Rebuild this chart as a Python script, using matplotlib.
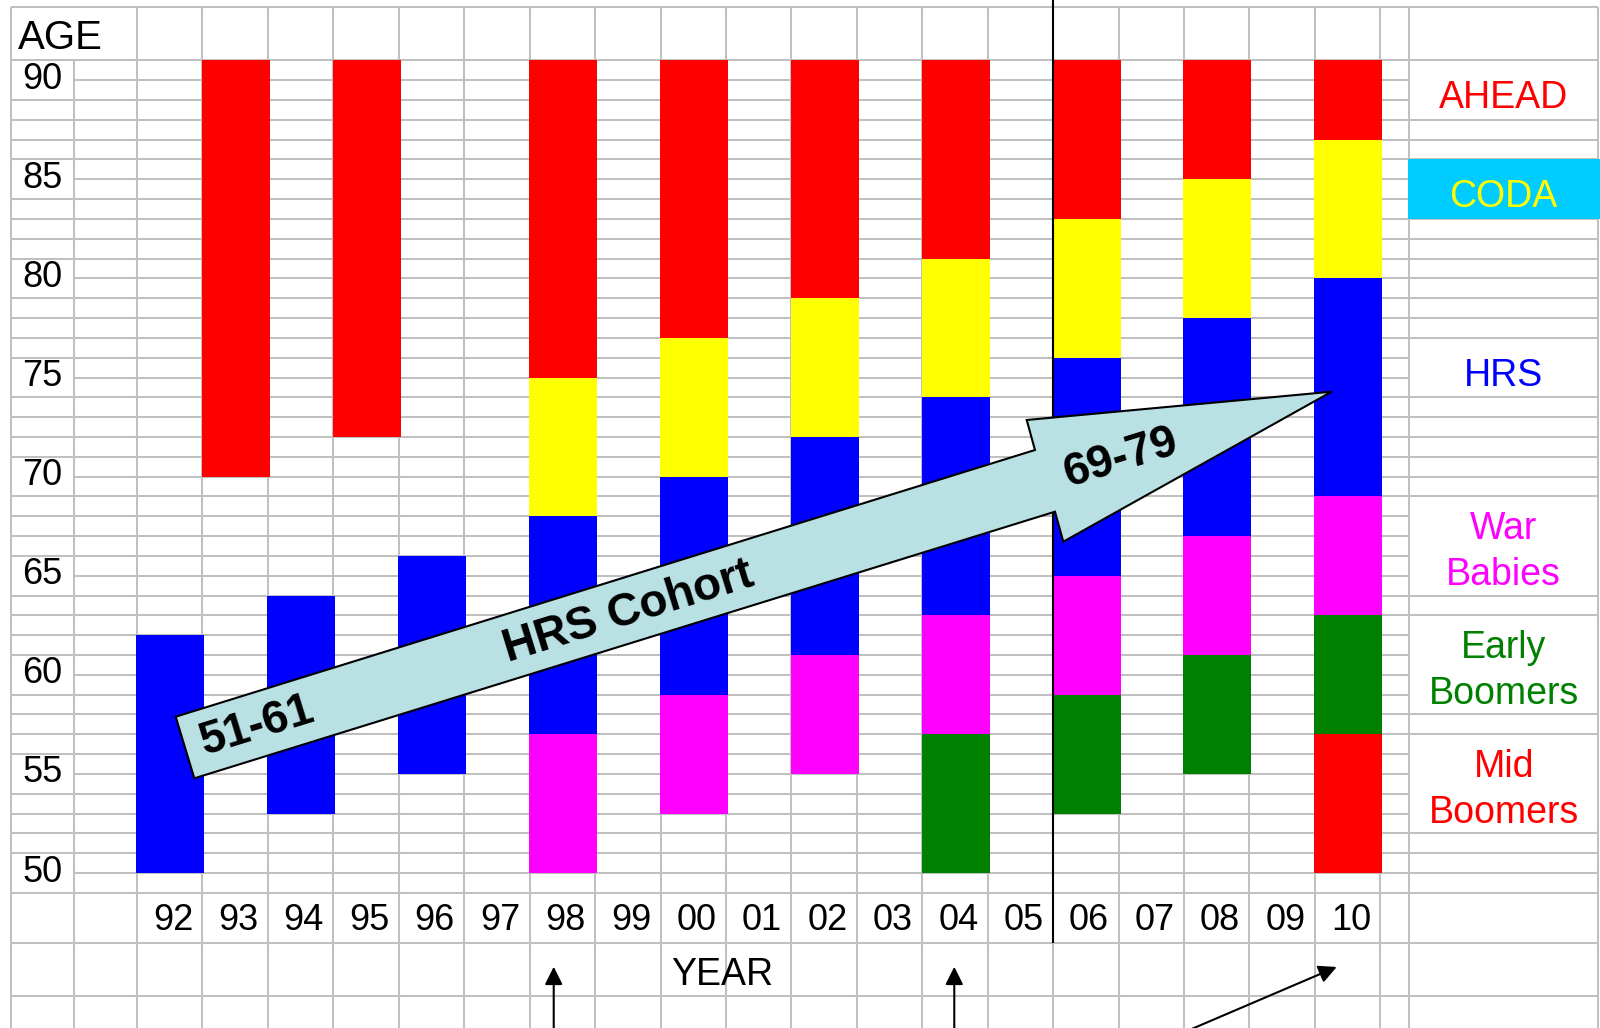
import matplotlib.pyplot as plt
from matplotlib.patches import Polygon, Rectangle
import numpy as np

plt.rcParams['font.family'] = ['Liberation Sans', 'DejaVu Sans']

nan = np.nan

# survey waves (one spreadsheet column each)
years = ['92', '93', '94', '95', '96', '97', '98', '99', '00', '01',
         '02', '03', '04', '05', '06', '07', '08', '09', '10']
age_ticks = [90, 85, 80, 75, 70, 65, 60, 55, 50]

# age band (low, high) covered by each cohort in each wave
ahead_lo = [nan, 70, nan, 72, nan, nan, 75, nan, 77, nan, 79, nan, 81, nan, 83, nan, 85, nan, 87]
ahead_hi = [nan, 91, nan, 91, nan, nan, 91, nan, 91, nan, 91, nan, 91, nan, 91, nan, 91, nan, 91]
coda_lo = [nan, nan, nan, nan, nan, nan, 68, nan, 70, nan, 72, nan, 74, nan, 76, nan, 78, nan, 80]
coda_hi = [nan, nan, nan, nan, nan, nan, 75, nan, 77, nan, 79, nan, 81, nan, 83, nan, 85, nan, 87]
hrs_lo = [50, nan, 53, nan, 55, nan, 57, nan, 59, nan, 61, nan, 63, nan, 65, nan, 67, nan, 69]
hrs_hi = [62, nan, 64, nan, 66, nan, 68, nan, 70, nan, 72, nan, 74, nan, 76, nan, 78, nan, 80]
warb_lo = [nan, nan, nan, nan, nan, nan, 50, nan, 53, nan, 55, nan, 57, nan, 59, nan, 61, nan, 63]
warb_hi = [nan, nan, nan, nan, nan, nan, 57, nan, 59, nan, 61, nan, 63, nan, 65, nan, 67, nan, 69]
ebb_lo = [nan, nan, nan, nan, nan, nan, nan, nan, nan, nan, nan, nan, 50, nan, 53, nan, 55, nan, 57]
ebb_hi = [nan, nan, nan, nan, nan, nan, nan, nan, nan, nan, nan, nan, 57, nan, 59, nan, 61, nan, 63]
mbb_lo = [nan] * 18 + [50]
mbb_hi = [nan] * 18 + [57]

cohorts = [(ahead_lo, ahead_hi, '#ff0000'),
           (coda_lo, coda_hi, '#ffff00'),
           (hrs_lo, hrs_hi, '#0000ff'),
           (warb_lo, warb_hi, '#ff00ff'),
           (ebb_lo, ebb_hi, '#008000'),
           (mbb_lo, mbb_hi, '#ff0000')]

names = ['AHEAD', 'CODA', 'HRS', 'War\nBabies', 'Early\nBoomers', 'Mid\nBoomers']
name_colors = ['#ff0000', '#ffff00', '#0000ff', '#ff00ff', '#008000', '#ff0000']
name_y = [89.5, 84.5, 75.5, 66.5, 60.5, 54.5]

# sheet layout, in column / age units
X_LAB_L, X_LAB_R = -1.925, -0.963
X_NARROW_R, X_RIGHT_R = 19.44, 22.33
Y_TOP, Y_ROW1, Y_ROW2, Y_END = 93.71, 46.48, 43.79, 41.0
GRID = '#c0c0c0'
GLW = 1.45

fig = plt.figure(figsize=(16, 10.28), dpi=100)
ax = fig.add_axes([0, 0, 1, 1])
ax.set_xlim(-137 / 65.44, (1600 - 137) / 65.44)
ax.set_ylim(50 - 155 / 19.82, 50 + 873 / 19.82)
ax.axis('off')

# vertical cell borders
vx = [X_LAB_L] + list(range(0, 20)) + [X_NARROW_R, X_RIGHT_R]
ax.vlines(vx, Y_END, Y_TOP, colors=GRID, lw=GLW, zorder=1)
ax.vlines(X_LAB_R, Y_END, 91, colors=GRID, lw=GLW, zorder=1)

# horizontal cell borders
ax.hlines([Y_TOP, Y_ROW1, Y_ROW2], X_LAB_L, X_RIGHT_R, colors=GRID, lw=GLW, zorder=1)
rows = np.arange(49, 92)
ax.hlines(rows, X_LAB_R, X_NARROW_R, colors=GRID, lw=GLW, zorder=1)
lab_rows = [r for r in rows if r not in age_ticks]
ax.hlines(lab_rows, X_LAB_L, X_LAB_R, colors=GRID, lw=GLW, zorder=1)
right_rows = [91, 88, 87, 86, 83, 82, 81, 80, 79, 78, 77, 74, 73, 72, 71, 70, 69,
              64, 63, 58, 57, 52, 51, 50, 49]
ax.hlines(right_rows, X_NARROW_R, X_RIGHT_R, colors=GRID, lw=GLW, zorder=1)

# cohort bars
idx = np.arange(len(years))
for lo, hi, c in cohorts:
    lo = np.array(lo, dtype=float)
    hi = np.array(hi, dtype=float)
    m = ~np.isnan(lo)
    ax.bar(idx[m] - 0.01, hi[m] - lo[m], bottom=lo[m], width=1.04, align='edge',
           color=c, linewidth=0, zorder=3)

# CODA label cell
ax.add_patch(Rectangle((X_NARROW_R - 0.02, 83), 3.1, 3, facecolor='#00ccff',
                       edgecolor='none', zorder=2))

# separator between 05 and 06
ax.vlines(14, Y_ROW1, 94.2, colors='black', lw=1.5, zorder=4)

# axis texts
ax.text(-1.818, 92.15, 'AGE', fontsize=29, ha='left', va='center', zorder=5)
for a in age_ticks:
    ax.text(-1.444, a + 0.05, str(a), fontsize=26, ha='center', va='center', zorder=5)
for i, y in enumerate(years):
    ax.text(i + 0.55, 47.6, y, fontsize=26, ha='center', va='center', zorder=5)
ax.text(8.95, 44.85, 'YEAR', fontsize=27, ha='center', va='center', zorder=5)

xr = (X_NARROW_R + X_RIGHT_R) / 2
for n, c, y in zip(names, name_colors, name_y):
    off = 0.4 if '\n' not in n else 0.3
    ax.text(xr, y - off, n, fontsize=27, color=c, ha='center', va='center',
            linespacing=1.36, zorder=5)

# HRS cohort block arrow
arrow_pts = [(0.591, 57.886), (13.722, 71.342), (13.596, 72.856), (18.256, 74.284),
             (14.155, 66.716), (14.028, 68.229), (0.876, 54.778)]
ax.add_patch(Polygon(arrow_pts, closed=True, facecolor='#b9e0e3', edgecolor='black',
                     lw=1.5, zorder=6))
rot = 17.2
ax.text(1.83, 57.43, '51-61', fontsize=33, fontweight='bold', rotation=rot,
        rotation_mode='anchor', ha='center', va='center', zorder=7)
ax.text(7.512, 63.16, 'HRS Cohort', fontsize=33, fontweight='bold', rotation=rot,
        rotation_mode='anchor', ha='center', va='center', zorder=7)
ax.text(15.037, 70.94, '69-79', fontsize=33, fontweight='bold', rotation=rot,
        rotation_mode='anchor', ha='center', va='center', zorder=7)

# pointers below the year row
ap = dict(arrowstyle='-|>', color='black', lw=1.5, mutation_scale=27,
          shrinkA=0, shrinkB=0)
ax.annotate('', xy=(6.368, 45.27), xytext=(6.368, 41.0), arrowprops=ap,
            annotation_clip=False, zorder=8)
ax.annotate('', xy=(12.489, 45.27), xytext=(12.489, 41.0), arrowprops=ap,
            annotation_clip=False, zorder=8)
ax.annotate('', xy=(18.333, 45.26), xytext=(15.72, 41.57), arrowprops=ap,
            annotation_clip=False, zorder=8)

fig.savefig('out.png', dpi=100)
